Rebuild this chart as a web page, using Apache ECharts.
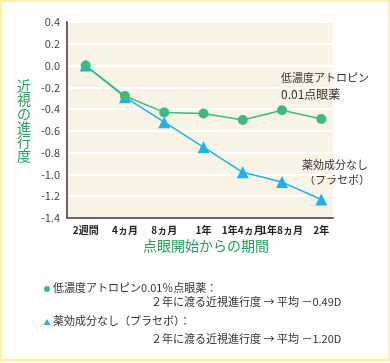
<!DOCTYPE html>
<html><head><meta charset="utf-8">
<script src="https://cdn.jsdelivr.net/npm/echarts@6/dist/echarts.min.js"></script>
<style>html,body{margin:0;padding:0;background:#fff}#c{width:390px;height:363px}</style>
</head><body><div id="c"></div>
<script>
var categories = ['2週間', '4ヵ月', '8ヵ月', '1年', '1年4ヵ月', '1年8ヵ月', '2年'];
var atropine = [0.0, -0.28, -0.43, -0.44, -0.50, -0.41, -0.49];
var placebo = [0.0, -0.29, -0.52, -0.75, -0.98, -1.07, -1.23];
var yTicks = [0.4, 0.2, 0.0, -0.2, -0.4, -0.6, -0.8, -1.0, -1.2, -1.4];

var FONT = '"Noto Sans CJK JP", sans-serif';
var GREEN = '#3dba80';
var BLUE = '#1eb2ea';
var TITLE_GREEN = '#22a15a';

function pairs(arr) { return arr.map(function (v, i) { return [i, v]; }); }

var chart = echarts.init(document.getElementById('c'), null, { renderer: 'canvas' });
chart.setOption({
  animation: false,
  backgroundColor: '#fff',
  grid: { left: 67, top: 22, right: 57, bottom: 145, show: true, backgroundColor: '#f7f4e5', borderWidth: 0 },
  xAxis: {
    type: 'value', min: -0.476, max: 6.298,
    axisLine: { show: true, onZero: false, lineStyle: { color: '#666', width: 2 } },
    axisTick: { show: false },
    splitLine: { show: false },
    axisLabel: {
      customValues: categories.map(function (c, i) { return i; }),
      formatter: function (v) { return categories[Math.round(v)] || ''; },
      color: '#222', fontSize: 10, fontFamily: FONT, fontWeight: 'bold', margin: 7
    }
  },
  yAxis: {
    type: 'value', min: -1.4, max: 0.4, interval: 0.2,
    axisLine: { show: true, onZero: false, lineStyle: { color: '#666', width: 2 } },
    axisTick: { show: false },
    splitLine: { show: true, lineStyle: { color: '#ffffff', width: 2 } },
    axisLabel: {
      customValues: yTicks,
      formatter: function (v) { return (Math.round(v * 10) / 10).toFixed(1); },
      color: '#444', fontSize: 11, fontFamily: FONT, margin: 7
    }
  },
  series: [
    {
      name: 'placebo', type: 'line', data: pairs(placebo),
      symbol: 'triangle', symbolSize: 12,
      lineStyle: { color: BLUE, width: 1.5 }, itemStyle: { color: BLUE }
    },
    {
      name: 'atropine', type: 'line', data: pairs(atropine),
      symbol: 'circle', symbolSize: 10,
      lineStyle: { color: GREEN, width: 1.5 }, itemStyle: { color: GREEN }
    }
  ],
  graphic: [
    { type: 'rect', shape: { x: 1, y: 1, width: 388, height: 359 }, style: { fill: 'none', stroke: '#fdf3a6', lineWidth: 2 }, silent: true },
    { type: 'text', left: 17, top: 79, style: { text: '近\n視\nの\n進\n行\n度', fill: TITLE_GREEN, font: '14px ' + FONT, lineHeight: 14 } },
    { type: 'text', left: 143, top: 239, style: { text: '点眼開始からの期間', fill: TITLE_GREEN, font: '14px ' + FONT } },
    { type: 'text', left: 281, top: 72, style: { text: '低濃度アトロピン', fill: '#333', font: '11px ' + FONT } },
    { type: 'text', left: 281, top: 88, style: { text: '0.01点眼薬', fill: '#333', font: '12px ' + FONT } },
    { type: 'text', left: 302, top: 159, style: { text: '薬効成分なし', fill: '#333', font: '11px ' + FONT } },
    { type: 'text', left: 304, top: 174, style: { text: '（プラセボ）', fill: '#333', font: '11px ' + FONT } },
    { type: 'circle', shape: { cx: 47, cy: 289, r: 3 }, style: { fill: GREEN } },
    { type: 'text', left: 53, top: 282, style: { text: '低濃度アトロピン0.01％点眼薬：', fill: '#333', font: '11px ' + FONT } },
    { type: 'text', left: 151, top: 296, style: { text: '２年に渡る近視進行度 → 平均 －0.49D', fill: '#333', font: '11px ' + FONT } },
    { type: 'polygon', shape: { points: [[47, 319], [43.5, 325], [50.5, 325]] }, style: { fill: BLUE } },
    { type: 'text', left: 53, top: 315, style: { text: '薬効成分なし（プラセボ）：', fill: '#333', font: '11px ' + FONT } },
    { type: 'text', left: 151, top: 333, style: { text: '２年に渡る近視進行度 → 平均 －1.20D', fill: '#333', font: '11px ' + FONT } }
  ]
});
</script></body></html>
